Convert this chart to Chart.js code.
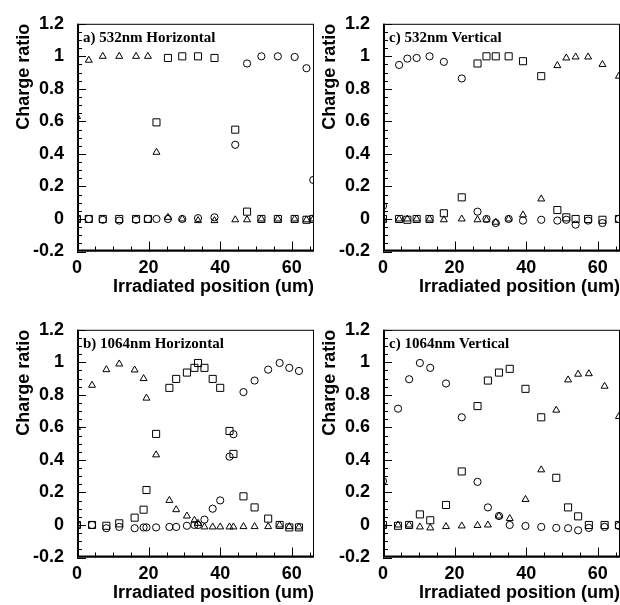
<!DOCTYPE html>
<html>
<head>
<meta charset="utf-8">
<script src="https://cdn.jsdelivr.net/npm/chart.js@4"></script>
<style>
  body { margin: 0; background: #fff; overflow: hidden; width: 620px; height: 605px; position: relative; }
  .panel { position: absolute; width: 320px; height: 300px; }
</style>
</head>
<body>
<div class="panel" style="left:0;top:0"><canvas id="pA" width="320" height="300"></canvas></div>
<div class="panel" style="left:306px;top:0"><canvas id="pC" width="320" height="300"></canvas></div>
<div class="panel" style="left:0;top:306px"><canvas id="pB" width="320" height="300"></canvas></div>
<div class="panel" style="left:306px;top:306px"><canvas id="pD" width="320" height="300"></canvas></div>
<script>
//Eixos
const xTicks = [0, 20, 40, 60];
const yTicks = [-0.2, 0, 0.2, 0.4, 0.6, 0.8, 1, 1.2];
const xMax = 66.2;

//a) 532nm Horizontal
const posA = [0, 3.3, 7.2, 11.8, 16.5, 19.8, 22.2, 25.4, 29.4, 33.8, 38.4, 44.2, 47.5, 51.5, 56.1, 60.8, 64.1, 66.0];
const triA = [0.63, 0.976, 1.0, 1.0, 1.0, 1.0, 0.41, 0.01, 0.0, -0.01, -0.01, -0.005, -0.005, 0.0, 0.0, 0.0, -0.005, 0.0];
const sqA = [0.0, 0.0, 0.0, 0.0, 0.0, 0.0, 0.594, 0.99, 1.0, 1.0, 0.99, 0.549, 0.045, 0.0, 0.0, 0.0, -0.005, 0.0];
const circA = [0.0, 0.0, -0.005, -0.01, -0.005, 0.0, 0.0, 0.0, 0.0, 0.005, 0.01, 0.456, 0.956, 1.0, 1.0, 0.996, 0.927, 0.24];

//c) 532nm Vertical
const posC = [0, 4.5, 6.8, 9.4, 13.0, 17.0, 22.0, 26.4, 28.9, 31.5, 35.1, 39.1, 44.2, 48.7, 51.2, 53.8, 57.3, 61.3, 65.9];
const circC = [0.08, 0.947, 0.986, 0.99, 1.0, 0.966, 0.864, 0.045, 0.0, -0.025, 0.0, -0.01, -0.005, -0.01, -0.005, -0.035, -0.01, -0.025, 0.0];
const sqC = [0.0, 0.0, -0.005, 0.0, 0.0, 0.035, 0.133, 0.956, 1.0, 1.0, 1.0, 0.97, 0.878, 0.055, 0.01, 0.0, 0.0, -0.005, 0.0];
const triC = [0.0, 0.0, 0.0, 0.0, 0.0, -0.005, 0.0, -0.005, -0.005, -0.02, 0.0, 0.025, 0.123, 0.943, 0.99, 0.996, 0.996, 0.95, 0.878];

//b) 1064nm Horizontal
const posB = [0, 4.2, 8.2, 11.8, 16.1, 18.6, 19.4, 22.1, 25.8, 27.7, 30.7, 32.8, 33.8, 35.6, 37.9, 40.0, 42.6, 43.7, 46.5, 49.6, 53.4, 56.6, 59.3, 62.0];
const triB = [0.60, 0.859, 0.955, 0.99, 0.953, 0.90, 0.78, 0.431, 0.151, 0.094, 0.055, 0.029, 0.01, -0.012, -0.012, -0.012, -0.012, -0.012, -0.01, -0.01, -0.01, 0.0, -0.01, -0.012];
const sqB = [0.0, 0.0, -0.005, 0.01, 0.045, 0.094, 0.215, 0.56, 0.843, 0.898, 0.937, 0.966, 0.996, 0.966, 0.898, 0.843, 0.578, 0.437, 0.176, 0.108, 0.039, 0.0, -0.015, -0.015];
const circB = [0.0, 0.0, -0.02, -0.012, -0.02, -0.015, -0.015, -0.015, -0.012, -0.012, -0.005, 0.0, 0.0, 0.033, 0.10, 0.151, 0.42, 0.558, 0.817, 0.888, 0.955, 0.996, 0.966, 0.947];

//c) 1064nm Vertical
const posD = [0, 4.2, 7.3, 10.3, 13.2, 17.6, 22.0, 26.4, 29.3, 32.4, 35.4, 39.8, 44.2, 48.4, 51.7, 54.5, 57.5, 61.9, 65.9];
const circD = [0.27, 0.715, 0.896, 0.996, 0.966, 0.87, 0.662, 0.265, 0.108, 0.055, 0.0, -0.006, -0.012, -0.018, -0.02, -0.033, -0.018, -0.012, -0.006];
const sqD = [0.0, -0.005, 0.0, 0.065, 0.029, 0.123, 0.329, 0.731, 0.888, 0.937, 0.96, 0.837, 0.662, 0.29, 0.108, 0.053, 0.0, 0.0, 0.0];
const triD = [0.0, 0.0, 0.0, -0.012, -0.018, -0.01, -0.006, -0.003, 0.0, 0.055, 0.04, 0.157, 0.339, 0.706, 0.892, 0.927, 0.93, 0.853, 0.667];

const pts = (xs, ys) => xs.map((x, i) => ({x: x, y: ys[i]}));

//Moldura, marcas internas e rótulo do painel
const framePlugin = {
    id: 'frame',
    afterDatasetsDraw(chart, args, opts) {
        const ctx = chart.ctx;
        const a = chart.chartArea;
        const xs = chart.scales.x, ys = chart.scales.y;
        ctx.save();
        ctx.strokeStyle = '#000';
        ctx.lineWidth = 1;
        ctx.beginPath();
        for (let i = 0; i * 0.05 <= 1.4 + 1e-9; i++) {
            const v = -0.2 + i * 0.05;
            const py = Math.round(ys.getPixelForValue(v)) + 0.5;
            const len = (i % 4 === 0) ? 9 : 5;
            ctx.moveTo(a.left, py);
            ctx.lineTo(a.left + len, py);
        }
        for (let i = 0; i * 5 <= xMax; i++) {
            const px = Math.round(xs.getPixelForValue(i * 5)) + 0.5;
            const len = (i % 4 === 0) ? 10 : 5;
            ctx.moveTo(px, a.bottom);
            ctx.lineTo(px, a.bottom - len);
        }
        ctx.stroke();
        ctx.strokeRect(a.left + 0.5, a.top + 0.5, a.right - a.left - 1, a.bottom - a.top - 1);
        ctx.lineWidth = 2;
        ctx.beginPath();
        ctx.moveTo(a.left + 1, a.top);
        ctx.lineTo(a.left + 1, a.bottom - 1);
        ctx.lineTo(a.right, a.bottom - 1);
        ctx.stroke();
        ctx.fillStyle = '#000';
        ctx.font = 'bold 15px "Liberation Serif"';
        ctx.textBaseline = 'alphabetic';
        ctx.fillText(opts.label, a.left + 6, a.top + 18);
        ctx.restore();
    }
};

function makePanel(id, label, xs, circ, sq, tri) {
    const ctx = document.getElementById(id).getContext('2d');
    const tickFont = {family: '"Liberation Sans", Arial, sans-serif', size: 18, weight: 'bold'};
    return new Chart(ctx, {
        type: 'scatter',
        data: {
            datasets: [{
                label: 'circle',
                data: pts(xs, circ),
                pointStyle: 'circle',
                pointRadius: 3.6,
                borderWidth: 1,
                borderColor: '#000',
                backgroundColor: 'transparent',
                clip: 0
            }, {
                label: 'square',
                data: pts(xs, sq),
                pointStyle: 'rect',
                pointRadius: 5,
                borderWidth: 1,
                borderColor: '#000',
                backgroundColor: 'transparent',
                clip: 0
            }, {
                label: 'triangle',
                data: pts(xs, tri),
                pointStyle: 'triangle',
                pointRadius: 4,
                borderWidth: 1,
                borderColor: '#000',
                backgroundColor: 'transparent',
                clip: 0
            }]
        },
        options: {
            responsive: false,
            animation: false,
            devicePixelRatio: 1,
            layout: {padding: {top: 13, right: 6, left: 0, bottom: 0}},
            plugins: {
                legend: {display: false},
                tooltip: {enabled: false},
                frame: {label: label}
            },
            scales: {
                x: {
                    type: 'linear',
                    min: 0,
                    max: xMax,
                    afterFit: s => { s.height = 48.5; },
                    afterBuildTicks: s => { s.ticks = xTicks.map(v => ({value: v})); },
                    grid: {display: false, drawTicks: false},
                    border: {display: false},
                    ticks: {color: '#000', font: tickFont, padding: 6, maxRotation: 0, callback: v => String(v)},
                    title: {
                        display: true,
                        text: 'Irradiated position (um)',
                        align: 'end',
                        color: '#000',
                        font: tickFont,
                        padding: {top: 0, bottom: 2}
                    }
                },
                y: {
                    type: 'linear',
                    min: -0.2,
                    max: 1.2,
                    afterFit: s => { s.width = 77; },
                    afterBuildTicks: s => { s.ticks = yTicks.map(v => ({value: v})); },
                    grid: {display: false, drawTicks: false},
                    border: {display: false},
                    ticks: {color: '#000', font: tickFont, padding: 13, callback: v => String(v)},
                    title: {
                        display: true,
                        text: 'Charge ratio',
                        align: 'end',
                        color: '#000',
                        font: tickFont,
                        padding: {top: 13, bottom: 0}
                    }
                }
            }
        },
        plugins: [framePlugin]
    });
}

makePanel('pA', 'a) 532nm Horizontal', posA, circA, sqA, triA);
makePanel('pC', 'c) 532nm Vertical', posC, circC, sqC, triC);
makePanel('pB', 'b) 1064nm Horizontal', posB, circB, sqB, triB);
makePanel('pD', 'c) 1064nm Vertical', posD, circD, sqD, triD);
</script>
</body>
</html>
